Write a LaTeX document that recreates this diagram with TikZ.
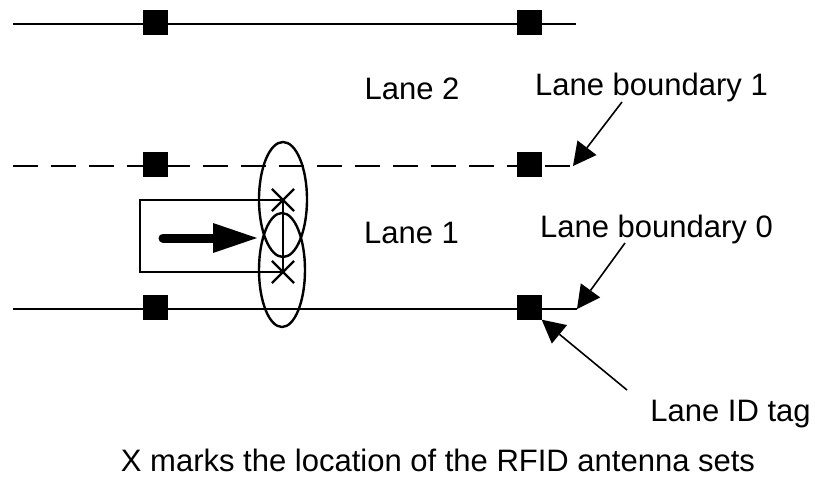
\documentclass[tikz,border=0pt]{standalone}
\usepackage{fontspec}
\setmainfont{Liberation Sans}
\usetikzlibrary{arrows.meta,shapes.geometric,shapes.misc}
\begin{document}
\begin{tikzpicture}[x=1pt,y=-1pt,
  lane/.style={line width=2.6pt},
  tagbox/.style={fill=black, draw=none, minimum size=25pt, inner sep=0pt},
  lbl/.style={font=\fontsize{31}{37}\selectfont, inner sep=0pt, anchor=base},
  pointer/.style={line width=1.6pt, -{Triangle[length=23pt,width=24pt,line width=0pt]}},
  ant/.style={draw, line width=2.4pt, inner sep=0pt},
  antmark/.style={draw, cross out, line width=2.2pt, minimum size=20pt, inner sep=0pt},
]
\useasboundingbox (0,0) rectangle (815,479);

% lane boundaries
\coordinate (t0) at (13,24);   \coordinate (t1) at (576,24);
\coordinate (d0) at (13,166);  \coordinate (d1) at (573,166);
\coordinate (b0) at (13,309);  \coordinate (b1) at (577,309);
\draw[lane] (t0) -- (t1);
\draw[lane, dash pattern=on 25pt off 13pt] (d0) -- (d1);
\draw[lane] (b0) -- (b1);

% lane ID tags
\node[tagbox] (tagA) at (155.5,22) {};
\node[tagbox] (tagB) at (529,22) {};
\node[tagbox] (tagC) at (155.5,164.5) {};
\node[tagbox] (tagD) at (529,164.5) {};
\node[tagbox] (tagE) at (155.5,307) {};
\node[tagbox] (tagF) at (529,307) {};

% antenna coverage ellipses
\node[ant, ellipse, minimum width=48pt, minimum height=115pt] (ea) at (283,199.5) {};
\node[ant, ellipse, minimum width=46pt, minimum height=114pt] (eb) at (282,270) {};

% antenna marks
\node[antmark] (xa) at (283,200) {};
\node[antmark] (xb) at (283,272) {};
\draw[line width=2.2pt] (xa.center) -- (xb.center);

% vehicle
\coordinate (vl1) at (140,200);
\coordinate (vl2) at (140,272);
\draw[line width=2.6pt, line join=miter] (xa.center) -- (vl1) -- (vl2) -- (xb.center);
\coordinate (vs) at (163,238);
\coordinate (ve) at (257,238);
\draw[line width=9pt, line cap=round, -{Triangle[length=44pt,width=30pt,line width=0pt]}] (vs) -- (ve);

% labels
\node[lbl] (l2) at (412,99) {Lane 2};
\node[lbl] (l1) at (411.5,243) {Lane 1};
\node[lbl] (lb1) at (651.5,95) {Lane boundary 1};
\node[lbl] (lb0) at (656.5,237) {Lane boundary 0};
\node[lbl] (lid) at (730.5,421) {Lane ID tag};
\node[lbl] (cap) at (438,471) {X marks the location of the RFID antenna sets};

% pointers
\coordinate (p1) at (622,102);
\coordinate (p0) at (625,243);
\coordinate (pt) at (627,390);
\draw[pointer] (p1) -- (d1);
\draw[pointer] (p0) -- (b1);
\draw[pointer] (pt) -- (tagF.south east);
\end{tikzpicture}
\end{document}
